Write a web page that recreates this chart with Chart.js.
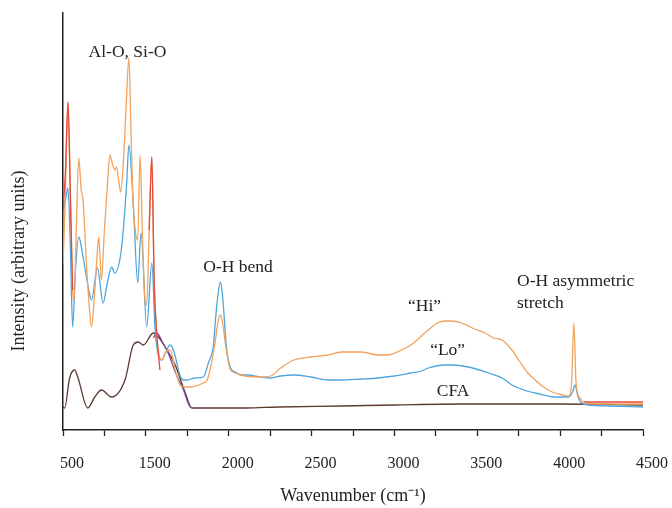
<!DOCTYPE html>
<html>
<head>
<meta charset="utf-8">
<script src="https://cdn.jsdelivr.net/npm/chart.js@4/dist/chart.umd.min.js"></script>
<style>
  html, body { margin: 0; padding: 0; background: #fff; }
  #wrap { width: 672px; height: 508px; }
</style>
</head>
<body>
<div id="wrap"><canvas id="chart" width="672" height="508"></canvas></div>
<script>
// x axis ticks (the first one is printed "500" in the original figure)
const tickLabels = ["500", "", "1500", "", "2000", "", "2500", "", "3000", "", "3500", "", "4000", "", "4500"];

// "Hi" sample (orange)
const hiWave = [1000, 1015, 1030, 1045, 1058, 1068, 1080, 1095, 1110, 1121, 1140, 1160, 1172, 1190, 1208, 1216, 1232, 1250, 1270, 1283,
  1300, 1313, 1323, 1340, 1348, 1365, 1380, 1398, 1410, 1422, 1440, 1451, 1465, 1480, 1495, 1505, 1520, 1536, 1550, 1566,
  1580, 1596, 1620, 1647, 1680, 1707, 1730, 1770, 1800, 1847, 1870, 1900, 1920, 1935, 1950, 1965, 1985, 2011, 2041, 2100,
  2193, 2253, 2314, 2393, 2496, 2600, 2680, 2801, 2900, 2961, 3030, 3100, 3163, 3204, 3260, 3303, 3345, 3406, 3470, 3546,
  3600, 3649, 3709, 3750, 3800, 3849, 3900, 3952, 4013, 4053, 4070, 4083, 4095, 4105, 4130, 4145, 4200, 4300, 4400, 4500];
const hiVal = [165, 240, 328, 230, 140, 130, 200, 272, 240, 230, 170, 120, 103, 135, 180, 193, 150, 200, 250, 275,
  265, 260, 263, 245, 238, 270, 320, 372, 300, 230, 195, 190, 275, 190, 130, 125, 200, 273, 150, 95,
  75, 70, 78, 80, 58, 45, 43, 43, 44, 47, 50, 70, 90, 108, 115, 105, 80, 60, 57, 54,
  53, 54, 62, 70, 73, 75, 78, 78, 75, 75, 79, 85, 94, 100, 107, 109, 109, 107, 102, 97,
  92, 90, 80, 70, 58, 50, 43, 38, 35, 34, 50, 107, 50, 37, 30, 27, 26, 26, 26, 26];

// "Lo" sample (blue)
const loWave = [1000, 1015, 1030, 1045, 1058, 1075, 1095, 1121, 1150, 1172, 1208, 1242, 1265, 1293, 1313, 1354, 1383, 1398, 1424, 1451,
  1471, 1505, 1536, 1556, 1576, 1596, 1620, 1647, 1670, 1707, 1727, 1748, 1798, 1847, 1877, 1908, 1920, 1935, 1950, 1965,
  1985, 2011, 2041, 2071, 2112, 2193, 2253, 2314, 2393, 2496, 2600, 2658, 2801, 2900, 3000, 3100, 3163, 3204, 3303, 3345,
  3447, 3568, 3650, 3709, 3800, 3849, 3970, 4053, 4075, 4090, 4105, 4123, 4175, 4300, 4500];
const loVal = [215, 230, 242, 180, 103, 160, 193, 173, 145, 130, 162, 127, 145, 163, 157, 183, 243, 285, 227, 147,
  197, 103, 167, 100, 75, 70, 78, 85, 78, 54, 50, 50, 52, 53, 67, 85, 110, 135, 148, 130,
  85, 62, 58, 55, 55, 53, 52, 54, 55, 53, 50, 50, 51, 52, 54, 57, 59, 62, 65, 65,
  63, 57, 52, 45, 39, 37, 33, 33, 38, 45, 35, 28, 25, 24, 23];

// CFA (brown)
const cfaWave = [1000, 1010, 1040, 1070, 1089, 1149, 1192, 1232, 1293, 1374, 1424, 1454, 1485, 1545, 1576, 1616, 1677, 1738, 1778, 1818,
  1900, 2100, 2300, 2680, 3000, 3400, 4000, 4500];
const cfaVal = [23, 22, 52, 60, 53, 22, 33, 40, 33, 50, 85, 88, 85, 97, 93, 83, 65, 37, 22, 22,
  22, 22, 23, 24, 25, 26, 26, 25];

// red trace (visible only where it leaves the others)
const redWave = [1000, 1015, 1030, 1045, 1058, 1065, 1520, 1536, 1550, 1566, 1585, 4130, 4145, 4200, 4300, 4400, 4500];
const redVal = [220, 260, 328, 230, 140, null, 200, 273, 150, 95, 60, null, 28, 28, 28, 28, 28];

// purple trace (descending edge near CFA)
const purpleWave = [1545, 1566, 1600, 1640, 1677, 1727, 1768, 1790];
const purpleVal = [92, 97, 88, 75, 58, 40, 23, 22];

const notes = [
  { text: "Al-O, Si-O", x: 1389, y: 378, align: "center" },
  { text: "O-H bend", x: 2056, y: 163, align: "center" },
  { text: "\u201CHi\u201D", x: 3182, y: 124, align: "center" },
  { text: "\u201CLo\u201D", x: 3321, y: 80, align: "center" },
  { text: "CFA", x: 3354, y: 39, align: "center" },
  { text: "O-H asymmetric", x: 3740, y: 149, align: "left" },
  { text: "stretch", x: 3740, y: 127, align: "left" }
];

const serif = '"Liberation Serif", "Times New Roman", serif';
const ink = "#222";

function pts(xs, ys) {
  return xs.map((x, i) => ({ x: x, y: ys[i] }));
}

function line(label, xs, ys, color) {
  return {
    label: label,
    data: pts(xs, ys),
    borderColor: color,
    borderWidth: 1.3,
    pointRadius: 0,
    tension: 0.35,
    cubicInterpolationMode: "monotone",
    spanGaps: false,
    fill: false
  };
}

const notesPlugin = {
  id: "notes",
  afterDatasetsDraw(chart) {
    const ctx = chart.ctx;
    const xs = chart.scales.x, ys = chart.scales.y;
    ctx.save();
    ctx.font = "17.5px " + serif;
    ctx.fillStyle = ink;
    ctx.textBaseline = "middle";
    notes.forEach(n => {
      ctx.textAlign = n.align;
      ctx.fillText(n.text, xs.getPixelForValue(n.x), ys.getPixelForValue(n.y));
    });
    ctx.restore();

    // y axis title sits lower than the plot centre in the original
    ctx.save();
    ctx.translate(19, 261);
    ctx.rotate(-Math.PI / 2);
    ctx.font = "18px " + serif;
    ctx.fillStyle = ink;
    ctx.textAlign = "center";
    ctx.textBaseline = "middle";
    ctx.fillText("Intensity (arbitrary units)", 0, 0);
    ctx.restore();
  }
};

new Chart(document.getElementById("chart").getContext("2d"), {
  type: "line",
  data: {
    datasets: [
      line("red", redWave, redVal, "#E2483D"),
      line("Hi", hiWave, hiVal, "#F2A35E"),
      line("Lo", loWave, loVal, "#4DA6DD"),
      line("purple", purpleWave, purpleVal, "#7E4A9C"),
      line("CFA", cfaWave, cfaVal, "#5B3B30")
    ]
  },
  options: {
    responsive: false,
    animation: false,
    layout: { padding: { top: 13, right: 29, bottom: 0, left: 0 } },
    plugins: {
      legend: { display: false },
      tooltip: { enabled: false }
    },
    scales: {
      x: {
        type: "linear",
        min: 1000,
        max: 4500,
        afterFit: s => { s.height = 78; s.paddingLeft = 0; s.paddingRight = 0; },
        grid: { display: true, drawOnChartArea: false, drawTicks: true, tickLength: 6, color: ink, tickColor: ink, tickWidth: 1.3 },
        border: { display: true, color: ink, width: 1.5 },
        ticks: {
          stepSize: 250,
          autoSkip: false,
          maxRotation: 0,
          padding: 18,
          labelOffset: 9,
          color: ink,
          font: { family: serif, size: 16 },
          callback: (v, i) => tickLabels[i]
        },
        title: {
          display: true,
          text: "Wavenumber (cm\u207B\u00B9)",
          color: ink,
          font: { family: serif, size: 18 },
          padding: { top: 10, bottom: 1 }
        }
      },
      y: {
        min: 0,
        max: 417,
        afterFit: s => { s.width = 63; },
        grid: { display: false, drawTicks: false },
        border: { display: true, color: ink, width: 1.5 },
        ticks: { display: false },
        title: { display: false }
      }
    }
  },
  plugins: [notesPlugin]
});
</script>
</body>
</html>
